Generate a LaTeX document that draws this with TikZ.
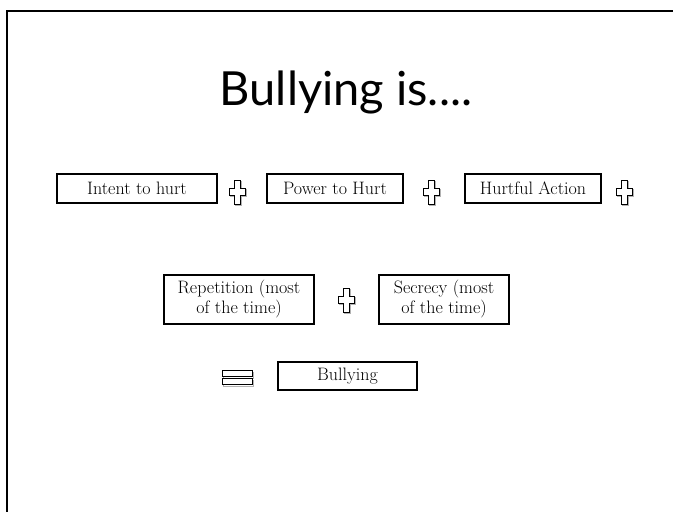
\documentclass[tikz,border=0pt]{standalone}
\usepackage{fontspec}
\usepackage{tikz}
\newfontfamily\titlefont{Lato}
\def\PlusSign#1#2{% cx cy
    \draw[gray!60, line width=1pt, shift={(#1+1,#2+1.5)}]
        (-3,-12) -- (3,-12) -- (3,-4) -- (8,-4) -- (8,3) -- (3,3) -- (3,12) -- (-3,12) -- (-3,3) -- (-8,3) -- (-8,-4) -- (-3,-4) -- cycle;
    \draw[fill=white, line width=0.8pt, shift={(#1,#2)}]
        (-3,-12) -- (3,-12) -- (3,-4) -- (8,-4) -- (8,3) -- (3,3) -- (3,12) -- (-3,12) -- (-3,3) -- (-8,3) -- (-8,-4) -- (-3,-4) -- cycle;
}
\def\EqualSign#1#2{% cx cy
    \draw[gray!60, line width=1pt, shift={(#1+1,#2+1.5)}]
        (-15,-7) rectangle (15,-1) (-15,1) rectangle (15,7);
    \draw[fill=white, line width=0.8pt, shift={(#1,#2)}]
        (-15,-7) rectangle (15,-1) (-15,1) rectangle (15,7);
}
\tikzset{
    factor/.style={draw, line width=2pt, inner sep=0pt, align=center,
        font=\fontsize{18}{20}\selectfont},
}

\begin{document}
\begin{tikzpicture}[x=1pt, y=-1pt]
    \useasboundingbox (0,0) rectangle (673,512);
    % slide frame
    \draw[line width=1.8pt] (7,512) -- (7,11) -- (673,11);
    \node[anchor=base, font=\titlefont\fontsize{47}{52}\selectfont] (title) at (346,105) {Bullying is....};
    % first row
    \node[factor, minimum width=160pt, minimum height=29pt] (intent) at (137,188.5) {Intent to hurt};
    \node[factor, minimum width=136pt, minimum height=29pt] (power)  at (335,188.5) {Power to Hurt};
    \node[factor, minimum width=136pt, minimum height=29pt] (action) at (533,188)   {Hurtful Action};
    \PlusSign{237}{192}
    \PlusSign{431}{192}
    \PlusSign{624}{192}
    % second row
    \node[factor, minimum width=150pt, minimum height=49pt] (repeat) at (239,299.5) {Repetition (most\\of the time)};
    \node[factor, minimum width=130pt, minimum height=49pt] (secret) at (444,299.5) {Secrecy (most\\of the time)};
    \PlusSign{346}{300}
    % result
    \EqualSign{237}{377.5}
    \node[factor, minimum width=139pt, minimum height=28pt] (result) at (347.5,376) {Bullying};
\end{tikzpicture}
\end{document}
